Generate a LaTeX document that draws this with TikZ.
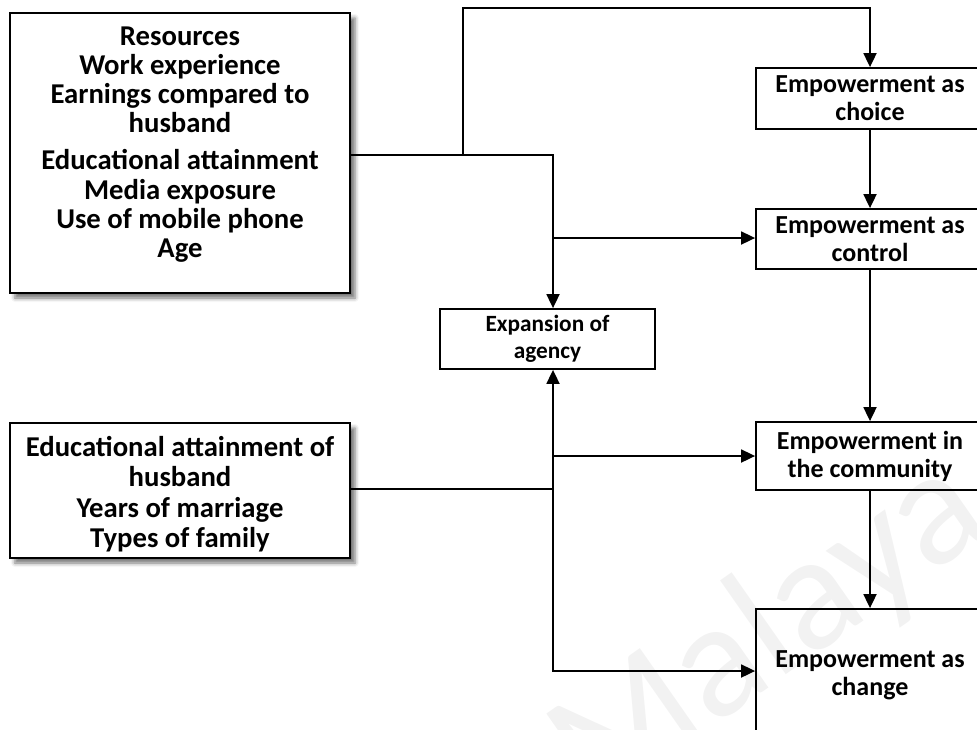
\documentclass[tikz,border=0pt]{standalone}
\usepackage{fontspec}
\setmainfont{Carlito}
\usetikzlibrary{arrows.meta,shadows.blur}
\begin{document}
\begin{tikzpicture}[x=1pt,y=-1pt,
  conn/.style={line width=1.8pt},
  tip/.tip={Triangle[length=14pt,width=13pt]},
  arr/.style={conn,-tip},
  lbox/.style={draw,line width=2.4pt,fill=white,
    blur shadow={shadow xshift=5pt,shadow yshift=-5pt,shadow blur radius=4pt,shadow opacity=55}},
  rbox/.style={draw,line width=1.8pt,align=center,inner sep=0pt,
    font=\fontsize{26}{28}\selectfont\bfseries},
  ltxt/.style={align=center,inner sep=0pt,font=\fontsize{28.7}{29.2}\selectfont\bfseries}
]
\useasboundingbox (0,0) rectangle (977,729);
\clip (0,0) rectangle (977,729);

% faint watermark
\node[rotate=35,text=black!5,font=\fontsize{165}{165}\selectfont] (wm) at (770,633) {Malaya};

% left boxes
\node[lbox,minimum width=340pt,minimum height=280pt] (res) at (180,153) {};
\node[ltxt] (restxt) at (180,144.5) {Resources\\Work experience\\Earnings compared to\\husband\\[8pt]Educational attainment\\Media exposure\\Use of mobile phone\\Age};

\node[lbox,minimum width=340pt,minimum height=135pt] (hus) at (180,490.5) {};
\node[ltxt,font=\fontsize{28.7}{30.5}\selectfont\bfseries] (hustxt) at (180,494) {Educational attainment of\\husband\\Years of marriage\\Types of family};

% middle
\node[draw,line width=1.8pt,minimum width=215pt,minimum height=60pt,align=center,inner sep=0pt,
  font=\fontsize{23.3}{27}\selectfont\bfseries] (exp) at (547.5,339) {Expansion of\\agency};

% right column
\node[rbox,minimum width=228pt,minimum height=61pt] (choice) at (870,98.5) {Empowerment as\\choice};
\node[rbox,minimum width=228pt,minimum height=60pt] (control) at (870,239) {Empowerment as\\control};
\node[rbox,minimum width=228pt,minimum height=68pt] (comm) at (870,456) {Empowerment in\\the community};
\node[rbox,minimum width=228pt,minimum height=132pt] (change) at (870,675) {Empowerment as\\change};

% junctions
\coordinate (j1) at (553,155);
\coordinate (j2) at (463,155);
\coordinate (jt) at (463,8);
\coordinate (j3) at (553,238);
\coordinate (j4) at (553,489);
\coordinate (j5) at (553,456);
\coordinate (j6) at (553,671);

% connectors
\draw[arr] (res.east |- j1) -- (j1) -- (j1 |- exp.north);
\draw[arr] (j2) -- (jt) -| (choice.north);
\draw[arr] (j3) -- (j3 -| control.west);
\draw[arr] (choice) -- (control);
\draw[arr] (control) -- (comm);
\draw[arr] (comm) -- (change);
\draw[conn] (hus.east |- j4) -- (j4);
\draw[conn,tip-tip] (j6 |- exp.south) -- (j6) -- (j6 -| change.west);
\draw[arr] (j5) -- (j5 -| comm.west);
\end{tikzpicture}
\end{document}
